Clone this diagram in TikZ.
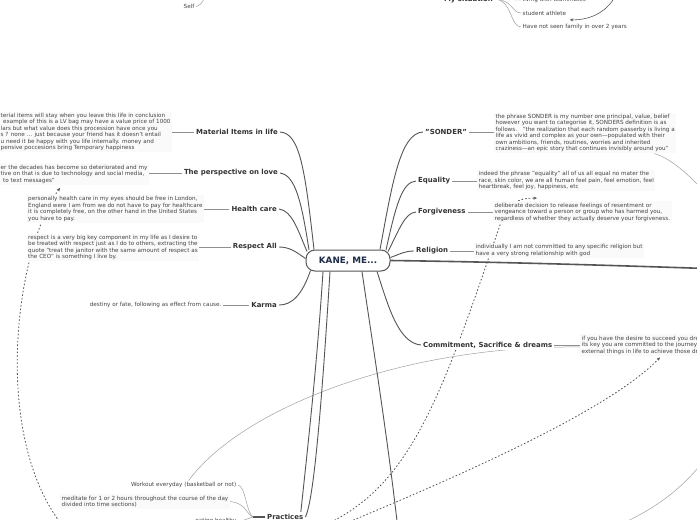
\documentclass[tikz,border=0pt]{standalone}
\usepackage{fontspec}
\setmainfont{DejaVu Sans}
\usetikzlibrary{arrows.meta,calc}
\definecolor{ln}{HTML}{555555}
\definecolor{txt}{HTML}{444444}
\definecolor{lbl}{HTML}{333333}
\definecolor{navy}{HTML}{1E2B4A}
\definecolor{thinc}{HTML}{A0A0A0}
\definecolor{leadc}{HTML}{909090}
\definecolor{blockbg}{HTML}{FAFAFA}
\pgfdeclarelayer{bg}
\pgfsetlayers{bg,main}
\begin{document}
\begin{tikzpicture}[x=1pt,y=-1pt,
  bodytxt/.style={font=\fontsize{5.65}{6.45}\selectfont, text=txt, align=left, inner sep=1.5pt, fill=blockbg},
  lbltxt/.style={font=\fontsize{6.95}{8}\selectfont\bfseries, text=lbl, inner sep=2pt, fill=white},
  brline/.style={draw=ln, line width=0.9pt},
  leadline/.style={draw=leadc, line width=0.6pt},
  thinline/.style={draw=thinc, line width=0.5pt},
  dashline/.style={draw=ln, line width=0.8pt, dash pattern=on 1.6pt off 2pt, -{Stealth[length=3.5pt,width=3pt]}},
  centre/.style={draw=ln, line width=1pt, rounded corners=9pt, fill=white, minimum width=84pt, minimum height=21pt, font=\fontsize{8.8}{10}\selectfont\bfseries, text=navy}]
\useasboundingbox (0,0) rectangle (697,520);

% centre
\node[centre] (c) at (348,260.5) {KANE, ME...};

% left labels
\node[lbltxt, anchor=east] (matl) at (280,132) {Material Items in life};
\node[lbltxt, anchor=east] (love) at (280,173) {The perspective on love};
\node[lbltxt, anchor=east] (health) at (279,209) {Health care};
\node[lbltxt, anchor=east] (resp) at (279,247) {Respect All};
\node[lbltxt, anchor=east] (karma) at (279,305) {Karma};
\node[lbltxt, anchor=west] (pract) at (265,517) {Practices};
% right labels
\node[lbltxt, anchor=west] (sonder) at (423,132) {"SONDER"};
\node[lbltxt, anchor=west] (equal) at (416,181) {Equality};
\node[lbltxt, anchor=west] (forg) at (416,212) {Forgiveness};
\node[lbltxt, anchor=west] (relig) at (414,251) {Religion};
\node[lbltxt, anchor=west] (commit) at (421,345) {Commitment, Sacrifice \& dreams};
\node[lbltxt, anchor=east] (mysit) at (495,-0.5) {My situation};

% text blocks left
\node[bodytxt, anchor=west] (matlt) at (-1,132) {terial items will stay when you leave this life in conclusion\\
\hspace*{2.5pt}example of this is a LV bag may have a value price of 1000\\
lars but what value does this procession have once you\\
s ? none ... just because your friend has it doesn't entail\\
u need it be happy with you life internally. money and\\
pensive poccesions bring Temporary happiness};
\node[bodytxt, anchor=west] (lovet) at (-1,174) {er the decades has become so deteriorated and my\\
tive on that is due to technology and social media,\\
\hspace*{2.5pt}to text messages"};
\node[bodytxt, anchor=west] (healtht) at (26.5,209) {personally health care in my eyes should be free in London,\\
England were I am from we do not have to pay for healthcare\\
it is completely free, on the other hand in the United States\\
you have to pay.};
\node[bodytxt, anchor=west] (respt) at (26.5,247.5) {respect is a very big key component in my life as I desire to\\
be treated with respect just as I do to others, extracting the\\
quote "treat the janitor with the same amount of respect as\\
the CEO" is something I live by.};
\node[bodytxt, anchor=east, fill=white] (karmat) at (223,305) {destiny or fate, following as effect from cause.};

% text blocks right
\node[bodytxt, anchor=west] (sondert) at (494,133) {the phrase SONDER is my number one principal, value, belief\\
however you want to categorise it, SONDERS definition is as\\
follows.\quad "the realization that each random passerby is living a\\
life as vivid and complex as your own—populated with their\\
own ambitions, friends, routines, worries and inherited\\
craziness—an epic story that continues invisibly around you"};
\node[bodytxt, anchor=west] (equalt) at (477,180.5) {indeed the phrase "equality" all of us all equal no mater the\\
race, skin color, we are all human feel pain, feel emotion, feel\\
heartbreak, feel joy, happiness, etc};
\node[bodytxt, anchor=west] (forgt) at (493,212) {deliberate decision to release feelings of resentment or\\
vengeance toward a person or group who has harmed you,\\
regardless of whether they actually deserve your forgiveness.};
\node[bodytxt, anchor=west] (religt) at (474,250.5) {individually I am not committed to any specific religion but\\
have a very strong relationship with god};
\node[bodytxt, anchor=west] (committ) at (580,345) {if you have the desire to succeed you dre\\
its key you are committed to the journey\\
external things in life to achieve those dr};

% practices children
\node[bodytxt, anchor=east, fill=white] (workt) at (238,485) {Workout everyday (basketball or not)};
\node[bodytxt, anchor=west] (medt) at (60,501.5) {meditate for 1 or 2 hours throughout the course of the day\\
divided into time sections)};
\node[bodytxt, anchor=east, fill=white] (eatt) at (238,521) {eating healthy};

% top items
\node[bodytxt, anchor=west, fill=white] (livt) at (521,0) {living with teammates};
\node[bodytxt, anchor=west, fill=white] (studt) at (521,13) {student athlete};
\node[bodytxt, anchor=west, fill=white] (famt) at (521,27) {Have not seen family in over 2 years};
\node[bodytxt, fill=none] (self) at (189,6.5) {Self};

% free ends
\coordinate (pj) at (253,517);
\coordinate (arrtop) at (616,-5);
\coordinate (selfup) at (205,-4);
\coordinate (sonout) at (706,194);
\coordinate (brA) at (706,458);
\coordinate (brB) at (612,528);
\coordinate (dA0) at (318,528);
\coordinate (dB0) at (330,530);
\coordinate (dC0) at (66,530);
\coordinate (rightout) at (706,268.5);
\coordinate (botL) at (299,530);
\coordinate (botR) at (398,530);

\begin{pgfonlayer}{bg}
\fill[white] (0,0) rectangle (697,520);
% dashed relations
\draw[dashline] (dA0) .. controls (410,490) and (440,400) .. (500,225) .. controls (507,205) and (515,198) .. ([shift={(44,-3)}]forgt.north west);
\draw[dashline] (dB0) .. controls (400,500) and (600,420) .. ([shift={(80,1.5)}]committ.south west);
\draw[dashline] (dC0) .. controls (-10,440) and (15,250) .. ([shift={(61,3)}]lovet.south west);
% thin relations
\draw[thinline] ([xshift=-22pt]sondert.south east) .. controls (670,158) and (690,175) .. (sonout);
\draw[thinline] (brA) .. controls (680,492) and (650,512) .. (brB);
\draw[thinline] ([xshift=5pt]workt.north) .. controls (240,410) and (400,345) .. ([yshift=-2pt]committ.west);
% branches
\draw[brline] ($(c.north)+(-34,0)$) .. controls (305,170) and (300,133) .. (matl.east);
\draw[brline] ($(c.north)+(-39,0.5)$) .. controls (302,205) and (296,175) .. (love.east);
\draw[brline] ($(c.north)+(-41,2)$) .. controls (297,228) and (292,211) .. (health.east);
\draw[brline] ($(c.west)+(0,-2)$) .. controls (296,252) and (290,247) .. (resp.east);
\draw[brline] ($(c.south west)+(5,-1)$) .. controls (302,295) and (292,305) .. (karma.east);
\draw[brline] ($(c.north)+(32,0)$) .. controls (392,185) and (400,133) .. (sonder.west);
\draw[brline] ($(c.north)+(38,0.5)$) .. controls (396,205) and (402,182) .. (equal.west);
\draw[brline] ($(c.north)+(40,2)$) .. controls (400,228) and (405,213) .. (forg.west);
\draw[brline] ($(c.east)+(0,-3)$) .. controls (400,254) and (405,251) .. (relig.west);
\draw[brline, line width=1.6pt] (c.east) .. controls (500,262) and (600,265) .. (rightout);
\draw[brline] ($(c.south)+(-25,0)$) .. controls (316,380) and (305,470) .. (botL);
\draw[brline] ($(c.south)+(-18,0)$) .. controls (322,400) and (314,500) .. (pract.east);
\draw[brline] ($(c.south)+(14,0)$) .. controls (372,340) and (388,440) .. (botR);
\draw[brline] ($(c.south)+(29,0)$) .. controls (388,305) and (398,343) .. (commit.west);
% leaders
\draw[leadline] (matl.west) -- (matlt.east |- matl.west);
\draw[leadline] (love.west) -- (lovet.east |- love.west);
\draw[leadline] (health.west) -- (healtht.east |- health.west);
\draw[leadline] (resp.west) -- (respt.east |- resp.west);
\draw[leadline] (karma.west) -- (karmat.east);
\draw[leadline] (sonder.east) -- (sondert.west |- sonder.east);
\draw[leadline] (equal.east) -- (equalt.west |- equal.east);
\draw[leadline] (forg.east) -- (forgt.west |- forg.east);
\draw[leadline] (relig.east) -- (religt.west |- relig.east);
\draw[leadline] (commit.east) -- (committ.west |- commit.east);
% practices fan
\draw[draw=ln, line width=1.6pt] (pract.west) -- (pj);
\draw[thinline] (pj) .. controls (246,512) and (246,487) .. (workt.east);
\draw[thinline] (pj) .. controls (246,514) and (246,503) .. (medt.east);
\draw[thinline] (pj) .. controls (246,519) and (244,521) .. (eatt.east);
% my situation
\draw[thinline] (mysit.east) .. controls (512,-1) and (512,0) .. (livt.west);
\draw[thinline] (mysit.east) .. controls (512,-1) and (512,13) .. (studt.west);
\draw[thinline] (mysit.east) .. controls (512,-1) and (510,27) .. (famt.west);
\draw[draw=ln, line width=0.6pt, -{Stealth[length=3.5pt,width=3pt]}] (arrtop) .. controls (606,14) and (588,20) .. ([shift={(2,3)}]studt.south east);
% self
\draw[thinline] (self.east) .. controls (200,6) and (203,2) .. (selfup);
\end{pgfonlayer}
\end{tikzpicture}
\end{document}
